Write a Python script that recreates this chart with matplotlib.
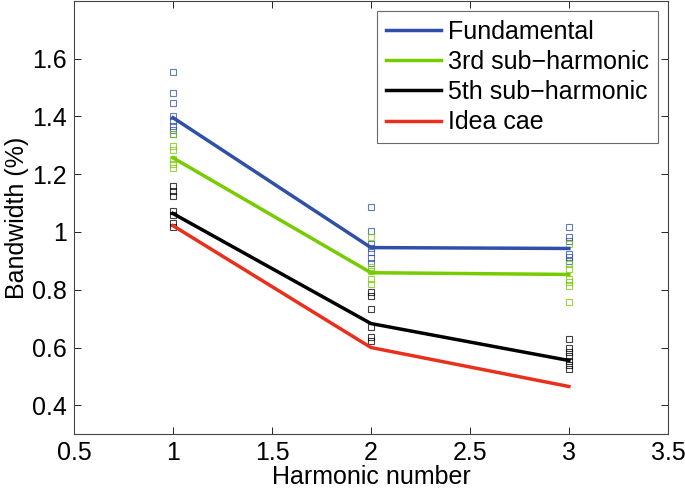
import numpy as np
import matplotlib
matplotlib.use('Agg')
import matplotlib.pyplot as plt

plt.rcParams['font.family'] = ['Liberation Sans', 'DejaVu Sans']

# mean curves
harm = [1, 2, 3]
fund = [1.396, 0.946, 0.943]
sub3 = [1.257, 0.859, 0.853]
sub5 = [1.064, 0.683, 0.555]
ideal = [1.022, 0.600, 0.465]

# individual samples (x=1, 2, 3)
fund_pts = [
    [1.555, 1.48, 1.448, 1.403, 1.385, 1.368, 1.354, 1.34],
    [1.085, 1.005, 0.96, 0.943, 0.93, 0.911, 0.894],
    [1.016, 0.982, 0.97, 0.925, 0.913, 0.90],
]
sub3_pts = [
    [1.339, 1.299, 1.284, 1.254, 1.236, 1.222],
    [0.982, 0.878, 0.866, 0.838, 0.821],
    [0.96, 0.89, 0.873, 0.838, 0.826, 0.814, 0.757],
]
sub5_pts = [
    [1.158, 1.143, 1.126, 1.074, 1.06, 1.03, 1.016],
    [0.792, 0.78, 0.735, 0.67, 0.636, 0.622],
    [0.63, 0.597, 0.584, 0.572, 0.555, 0.538, 0.527],
]

c_blue = '#3050a8'
c_green = '#77cc00'
c_black = '#000000'
c_red = '#e8301c'

fig = plt.figure(figsize=(6.85, 4.9), dpi=100)
ax = fig.add_axes([0.108, 0.114, 0.867, 0.884])

for pts, col in [(fund_pts, c_blue), (sub3_pts, c_green), (sub5_pts, c_black)]:
    for x, ys in zip(harm, pts):
        ax.plot([x] * len(ys), ys, 's', mfc='none', mec=col, ms=3.8, mew=0.8, alpha=0.75)

ax.plot(harm, fund, color=c_blue, lw=2.5, label='Fundamental')
ax.plot(harm, sub3, color=c_green, lw=2.5, label='3rd sub\u2212harmonic')
ax.plot(harm, sub5, color=c_black, lw=2.5, label='5th sub\u2212harmonic')
ax.plot(harm, ideal, color=c_red, lw=2.5, label='Idea cae')

ax.set_xlim(0.5, 3.5)
ax.set_ylim(0.3, 1.8)
ax.set_xticks([0.5, 1, 1.5, 2, 2.5, 3, 3.5])
ax.set_xticklabels(['0.5', '1', '1.5', '2', '2.5', '3', '3.5'])
ax.set_yticks([0.4, 0.6, 0.8, 1.0, 1.2, 1.4, 1.6])
ax.set_yticklabels(['0.4', '0.6', '0.8', '1', '1.2', '1.4', '1.6'])
ax.tick_params(direction='in', top=True, right=True, labelsize=18, length=5, width=0.6, pad=5)
for s in ax.spines.values():
    s.set_linewidth(0.8)
    s.set_color('#444444')

ax.set_xlabel('Harmonic number', fontsize=18, labelpad=0)
ax.set_ylabel('Bandwidth (%)', fontsize=18, labelpad=2)

leg = ax.legend(loc='upper right', fontsize=18, fancybox=False, edgecolor='#444444',
                handlelength=2.2, handletextpad=0.3, borderpad=0.35, labelspacing=0.25,
                borderaxespad=0.4)
leg.get_frame().set_linewidth(0.8)

fig.savefig('out.png', dpi=100)
